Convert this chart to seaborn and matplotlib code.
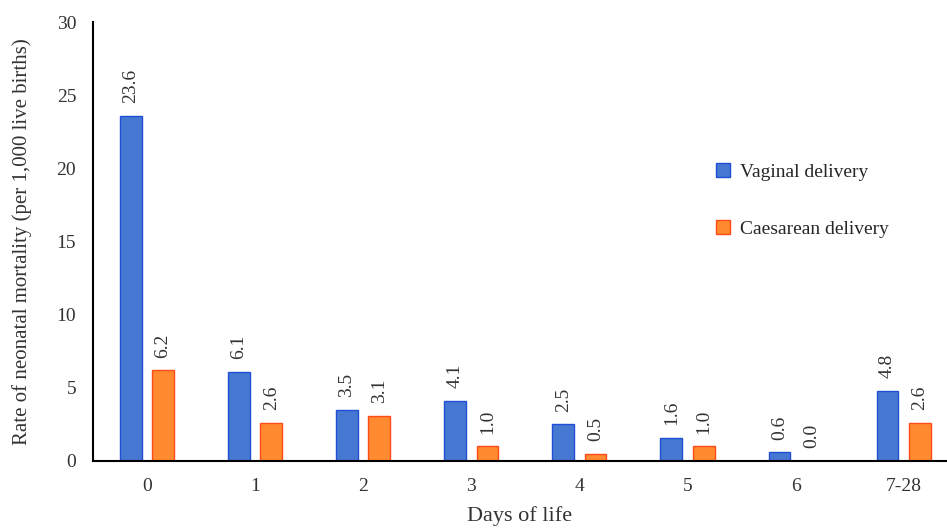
import pandas as pd
import matplotlib
matplotlib.use("Agg")
import matplotlib.pyplot as plt
import seaborn as sns

# Data
days = ["0", "1", "2", "3", "4", "5", "6", "7-28"]
vaginal = [23.6, 6.1, 3.5, 4.1, 2.5, 1.6, 0.6, 4.8]
caesarean = [6.2, 2.6, 3.1, 1.0, 0.5, 1.0, 0.0, 2.6]
series = ["Vaginal delivery", "Caesarean delivery"]

df = pd.DataFrame({
    "day": days * 2,
    "rate": vaginal + caesarean,
    "delivery": [series[0]] * len(days) + [series[1]] * len(days),
})

sns.set_theme(style="white")
plt.rcParams["font.family"] = ["Liberation Serif", "DejaVu Serif"]

fig = plt.figure(figsize=(9.47, 5.28), dpi=100)
ax = fig.add_axes([0.098, 0.127, 0.902, 0.831])

palette = {series[0]: "#4677D1", series[1]: "#FF8A30"}
edges = {series[0]: "#1F4FD6", series[1]: "#FF4A1A"}

sns.barplot(data=df, x="day", y="rate", hue="delivery", order=days,
            hue_order=series, palette=palette, width=0.6, gap=0.33,
            ax=ax, saturation=1)

for container, name in zip(ax.containers, series):
    for bar in container:
        bar.set_edgecolor(edges[name])
        bar.set_linewidth(1.0)
    ax.bar_label(container, labels=[f"{v:.1f}" for v in container.datavalues],
                 rotation=90, padding=9, fontsize=14, color="#333333")

ax.set_ylim(0, 30)
ax.set_xlim(-0.5, 7.4)
ax.set_yticks(range(0, 31, 5))
ax.tick_params(axis="both", labelsize=14, colors="#333333", length=0, pad=12)
ax.set_xlabel("Days of life", fontsize=16, color="#333333", labelpad=8)
ax.set_ylabel("Rate of neonatal mortality (per 1,000 live births)", fontsize=15,
              color="#333333", labelpad=18)

sns.despine(ax=ax)
ax.spines["left"].set_color("black")
ax.spines["bottom"].set_color("black")
ax.spines["left"].set_linewidth(1.5)
ax.spines["bottom"].set_linewidth(1.5)

leg = ax.legend(loc="upper left", bbox_to_anchor=(0.73, 0.678), frameon=False,
                fontsize=14, labelspacing=2.0, handlelength=0.7,
                handleheight=0.7, handletextpad=0.5, borderpad=0,
                borderaxespad=0)
for h, name in zip(leg.legend_handles, series):
    h.set_edgecolor(edges[name])

fig.savefig("out.png", dpi=100)
